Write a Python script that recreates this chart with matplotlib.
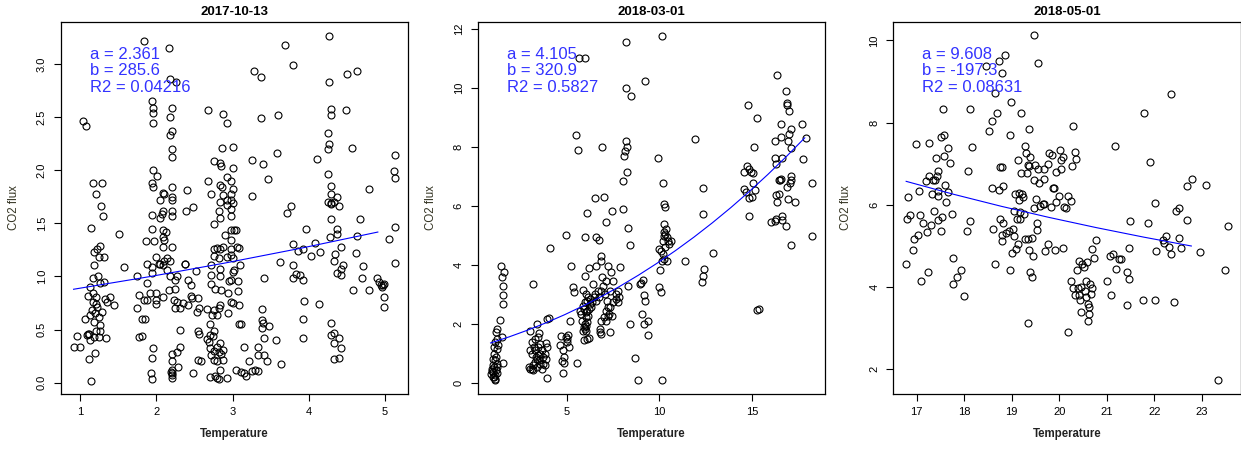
import numpy as np
import matplotlib
matplotlib.use("Agg")
import matplotlib.pyplot as plt

plt.rcParams['font.family'] = ['Liberation Sans', 'DejaVu Sans']

# (temperature, CO2 flux)
pts_2017_10_13 = [
    (0.91, 0.34), (0.95, 0.44), (1.00, 0.34), (1.03, 2.46), (1.07, 2.42), (1.06, 0.60),
    (1.11, 0.22), (1.14, 0.02), (1.10, 0.46), (1.13, 0.40), (1.17, 1.88), (1.28, 1.88),
    (1.21, 1.78), (1.27, 1.66), (1.30, 1.57), (1.14, 1.46), (1.51, 1.40), (1.57, 1.09),
    (1.18, 1.23), (1.22, 1.26), (1.26, 1.29), (1.24, 1.18), (1.31, 1.18), (1.18, 1.11),
    (1.17, 0.99), (1.23, 1.00), (1.13, 0.90), (1.26, 0.94), (1.31, 0.95), (1.10, 0.82),
    (1.17, 0.84), (1.20, 0.81), (1.17, 0.76), (1.22, 0.71), (1.15, 0.68), (1.28, 0.67),
    (1.25, 0.62), (1.13, 0.64), (1.18, 0.57), (1.26, 0.54), (1.20, 0.49), (1.26, 0.49),
    (1.18, 0.43), (1.24, 0.43), (1.19, 0.28), (1.33, 0.42), (1.39, 0.81), (1.44, 0.73),
    (1.35, 0.76), (1.32, 0.79), (1.11, 0.46), (1.08, 0.45), (1.19, 0.66), (1.21, 0.74),
    (1.74, 0.70), (1.75, 1.00), (1.77, 0.83), (1.77, 0.43), (1.81, 0.44), (1.81, 0.60),
    (1.85, 0.60), (1.84, 3.22), (1.86, 1.33), (1.88, 0.94), (1.88, 1.12), (1.84, 0.78),
    (1.88, 0.78), (1.93, 0.09), (1.94, 0.03), (1.94, 0.23), (1.96, 0.33), (1.94, 2.65),
    (1.95, 2.59), (1.95, 2.54), (1.95, 2.45), (1.96, 2.00), (2.01, 1.95), (1.94, 1.88),
    (1.95, 1.84), (1.94, 1.58), (1.94, 1.45), (1.97, 1.33), (1.99, 1.18), (1.94, 1.09),
    (1.94, 1.03), (1.92, 0.84), (1.99, 0.84), (2.00, 0.78), (2.00, 0.74), (2.03, 1.12),
    (2.05, 1.12), (2.08, 1.11), (2.10, 1.15), (2.05, 1.55), (2.07, 1.59), (2.09, 1.62),
    (2.05, 1.72), (2.10, 1.78), (2.08, 1.79), (2.09, 1.44), (2.12, 1.42), (2.08, 1.37),
    (2.10, 1.34), (2.09, 1.28), (2.14, 1.17), (2.09, 0.81), (2.14, 1.06), (2.18, 1.00),
    (2.17, 3.15), (2.18, 2.86), (2.26, 2.83), (2.20, 2.59), (2.18, 2.50), (2.20, 2.37),
    (2.18, 2.33), (2.20, 2.20), (2.20, 2.13), (2.20, 1.84), (2.21, 1.75), (2.20, 1.72),
    (2.20, 1.62), (2.20, 1.57), (2.21, 1.28), (2.18, 1.15), (2.17, 0.87), (2.25, 0.88),
    (2.23, 0.78), (2.27, 0.76), (2.24, 0.70), (2.27, 1.00), (2.24, 0.97), (2.31, 0.70),
    (2.35, 0.75), (2.31, 0.50), (2.27, 0.29), (2.31, 0.34), (2.20, 0.27), (2.20, 0.20),
    (2.28, 0.15), (2.20, 0.12), (2.19, 0.10), (2.20, 0.09), (2.20, 0.07), (2.20, 0.04),
    (2.37, 1.12), (2.38, 1.12), (2.40, 1.81), (2.39, 1.62), (2.48, 1.65), (2.42, 0.97),
    (2.45, 0.92), (2.42, 0.73), (2.45, 0.82), (2.47, 0.80), (2.48, 0.09), (2.52, 1.05),
    (2.53, 0.67), (2.55, 0.80), (2.56, 0.70), (2.55, 0.49), (2.56, 0.46), (2.55, 0.21),
    (2.58, 0.20),
    (2.68, 2.57), (2.68, 1.90), (2.72, 1.78), (2.75, 2.09), (2.84, 2.07), (2.85, 2.04),
    (2.87, 2.53), (2.93, 2.45), (2.86, 2.21), (3.00, 2.22), (3.00, 2.02), (2.93, 1.94),
    (2.98, 1.90), (2.84, 1.86), (2.86, 1.84), (2.87, 1.77), (2.98, 1.78), (3.00, 1.82),
    (2.93, 1.72), (2.98, 1.72), (3.00, 1.69), (2.93, 1.67), (2.98, 1.64), (2.84, 1.70),
    (2.82, 1.62), (2.84, 1.55), (2.98, 1.57), (2.76, 1.49), (2.90, 1.39), (2.98, 1.44),
    (3.02, 1.44), (3.04, 1.44), (2.98, 1.34), (3.06, 1.28), (3.09, 1.27), (2.75, 1.26),
    (2.80, 1.27), (2.84, 1.26), (2.88, 1.28), (2.98, 1.26), (2.75, 1.19), (2.82, 1.17),
    (2.93, 1.18), (2.98, 1.20), (3.00, 1.17), (2.72, 1.11), (2.84, 1.07), (3.10, 1.11),
    (2.72, 1.01), (2.84, 1.00), (2.95, 0.96), (2.98, 0.97), (3.00, 1.04), (3.02, 1.06),
    (3.07, 0.96), (2.72, 0.93), (2.77, 0.88), (2.85, 0.87), (2.94, 0.84), (3.07, 0.86),
    (2.98, 0.76), (3.01, 0.75), (3.09, 0.73), (2.84, 0.73), (2.82, 0.70), (2.67, 0.69),
    (2.75, 0.68), (2.73, 0.64), (2.80, 0.64), (2.94, 0.66), (2.71, 0.55), (2.75, 0.49),
    (2.70, 0.45), (2.74, 0.44), (2.67, 0.41), (2.69, 0.38), (2.71, 0.33), (2.80, 0.34),
    (2.84, 0.37), (2.87, 0.31), (2.75, 0.30), (2.82, 0.29), (2.72, 0.26), (2.85, 0.27),
    (2.75, 0.21), (2.79, 0.20), (2.87, 0.21), (2.84, 0.12), (2.71, 0.05), (2.77, 0.06),
    (2.80, 0.04), (2.82, 0.03), (2.93, 0.04), (3.09, 0.55), (3.11, 0.55), (3.04, 0.12),
    (3.15, 0.34), (3.11, 0.10), (3.15, 0.09), (3.18, 0.06), (3.22, 0.20), (3.26, 0.11),
    (3.30, 0.12), (3.33, 0.11), (3.34, 0.34), (3.34, 0.26), (3.41, 0.26), (3.45, 0.20),
    (3.28, 2.94), (3.37, 2.88), (3.38, 2.49), (3.25, 2.10), (3.40, 2.06), (3.46, 1.92),
    (3.26, 1.76), (3.58, 2.16), (3.60, 2.52), (3.69, 3.18), (3.79, 2.99), (3.72, 1.60),
    (3.77, 1.66), (3.63, 1.14), (3.79, 1.31), (3.80, 1.11), (3.86, 1.24), (3.79, 0.99),
    (3.84, 1.02), (3.89, 1.01), (3.93, 0.97), (3.93, 1.26), (3.96, 1.45), (3.42, 0.99),
    (3.39, 0.69), (3.39, 0.59), (3.40, 0.56), (3.39, 0.51), (3.48, 0.53), (3.42, 0.42),
    (3.57, 0.40), (3.64, 0.18), (3.94, 0.77), (3.93, 0.60), (3.93, 0.42), (4.03, 1.19),
    (4.08, 1.32), (4.11, 2.11), (4.15, 1.23), (4.14, 0.74),
    (4.27, 3.27), (4.27, 2.83), (4.30, 2.58), (4.29, 2.52), (4.26, 2.35), (4.27, 2.25),
    (4.26, 2.20), (4.26, 1.97), (4.29, 1.85), (4.30, 1.78), (4.26, 1.70), (4.30, 1.69),
    (4.33, 1.70), (4.29, 1.68), (4.37, 1.75), (4.40, 1.66), (4.29, 1.54), (4.28, 1.37),
    (4.37, 1.45), (4.37, 1.40), (4.42, 1.28), (4.35, 1.21), (4.34, 1.15), (4.45, 1.11),
    (4.42, 1.07), (4.37, 1.03), (4.43, 1.01), (4.49, 2.57), (4.50, 2.91), (4.63, 2.94),
    (4.57, 2.21), (4.68, 1.54), (4.64, 1.38), (4.62, 1.22), (4.72, 1.10), (4.70, 0.99),
    (4.59, 0.87), (4.79, 1.82), (4.80, 0.87), (4.29, 0.56), (4.30, 0.45), (4.33, 0.47),
    (4.40, 0.42), (4.33, 0.37), (4.43, 0.33), (4.34, 0.22), (4.40, 0.23),
    (4.90, 0.99), (4.93, 0.95), (4.95, 0.92), (4.98, 0.92), (4.96, 0.90), (4.99, 0.93),
    (4.99, 0.81), (4.99, 0.71), (5.06, 1.35), (5.12, 1.99), (5.14, 1.93), (5.14, 2.14),
    (5.13, 1.47), (5.14, 1.13),
]

pts_2018_03_01 = [
    (0.86, 0.29), (0.92, 0.46), (0.97, 0.58), (1.04, 0.18), (1.10, 0.07), (1.01, 0.35),
    (1.15, 0.43), (1.04, 0.52), (1.19, 0.63), (1.10, 0.75), (1.01, 0.80), (1.15, 0.86),
    (1.06, 0.97), (1.19, 1.14), (1.04, 1.20), (1.10, 1.37), (1.19, 1.48), (1.12, 0.24),
    (0.97, 0.20), (1.22, 0.32), (0.94, 0.38), (1.19, 0.52), (1.12, 0.12), (1.15, 1.73),
    (1.19, 1.82), (1.28, 1.26), (1.37, 2.13), (1.42, 3.95), (1.58, 3.74), (1.47, 3.57),
    (1.55, 3.29), (1.55, 2.96), (1.51, 2.67), (1.49, 1.56), (1.55, 0.66),
    (3.13, 3.33), (2.99, 1.76), (3.38, 1.99), (3.08, 1.37), (3.49, 1.67), (3.26, 1.48),
    (2.99, 1.09), (3.08, 0.97), (2.95, 0.52), (3.02, 0.46), (3.17, 0.58), (3.26, 0.69),
    (3.35, 0.80), (3.40, 0.92), (3.29, 1.09), (3.44, 1.20), (3.53, 1.31), (3.56, 0.97),
    (3.49, 0.75), (3.62, 1.09), (3.67, 0.86), (3.71, 0.63), (3.79, 0.97), (3.85, 1.33),
    (3.94, 1.20), (3.88, 0.80), (3.79, 0.58), (3.62, 0.46), (3.35, 0.52), (3.17, 0.41),
    (3.08, 0.46), (3.44, 1.54), (3.53, 0.63), (3.31, 0.88), (3.20, 1.20), (3.94, 2.16),
    (4.03, 2.18), (3.94, 0.15), (4.10, 4.57),
    (4.60, 1.26), (4.78, 1.09), (4.82, 0.86), (4.75, 0.72), (4.86, 0.66), (4.93, 1.54),
    (5.00, 1.48), (5.05, 1.60), (5.00, 1.37), (5.11, 1.20), (5.14, 2.08), (4.69, 1.59),
    (4.78, 0.33), (4.93, 5.02), (5.20, 3.97), (5.32, 3.26), (5.38, 3.07), (5.50, 8.40),
    (5.58, 7.90), (5.65, 11.00), (5.99, 11.02), (5.56, 0.66),
    (5.68, 2.44), (5.77, 2.33), (5.86, 2.61), (5.90, 2.50), (5.95, 2.73), (6.01, 2.39),
    (6.04, 2.22), (5.83, 2.10), (5.95, 1.99), (5.92, 1.88), (5.99, 1.82), (6.01, 1.76),
    (6.04, 1.93), (6.10, 2.05), (6.13, 2.27), (6.19, 2.50), (6.22, 2.67), (6.26, 2.84),
    (6.13, 2.90), (6.01, 3.01), (6.08, 1.48), (5.90, 1.43), (6.19, 1.52), (6.31, 2.56),
    (6.37, 2.73), (6.44, 2.90), (6.08, 2.44), (5.86, 1.76), (6.10, 2.78), (5.86, 3.14),
    (5.99, 3.60), (5.99, 4.93), (6.08, 5.77), (6.19, 3.88), (6.40, 3.35), (6.49, 6.26),
    (6.58, 4.93), (6.73, 4.84), (6.58, 3.97), (6.82, 4.31), (6.82, 4.11), (6.87, 7.99),
    (6.98, 6.30), (7.09, 5.44),
    (6.67, 3.12), (6.73, 2.90), (6.85, 3.12), (6.91, 3.57), (6.94, 3.29), (7.03, 3.01),
    (7.12, 3.46), (7.16, 2.78), (7.21, 2.56), (7.27, 2.33), (7.09, 2.44), (6.98, 2.22),
    (6.85, 2.10), (6.76, 1.82), (6.85, 1.65), (6.80, 1.71), (7.12, 2.10), (7.21, 2.27),
    (7.30, 2.56), (7.48, 2.73), (7.63, 3.01), (7.75, 3.12), (7.66, 2.84), (7.81, 2.90),
    (7.75, 2.73), (7.84, 3.91), (7.48, 3.46), (7.30, 3.12), (6.58, 2.78), (6.49, 3.01),
    (7.45, 2.27), (7.21, 3.95), (7.39, 3.74), (7.45, 5.81), (7.34, 1.73),
    (8.02, 5.89), (8.02, 6.84), (8.08, 7.70), (8.15, 7.87), (8.20, 8.21), (8.24, 7.99),
    (8.26, 7.15), (8.20, 11.55), (8.20, 10.00), (8.44, 9.72), (8.31, 5.23), (8.38, 4.68),
    (8.31, 3.27), (8.38, 1.99), (8.67, 0.84), (8.83, 0.07), (9.21, 10.25), (8.96, 3.35),
    (9.01, 3.37), (9.10, 3.48), (9.15, 2.97), (9.21, 2.78), (9.03, 2.33), (9.15, 1.99),
    (9.37, 2.08), (9.37, 1.60),
    (9.91, 7.61), (9.95, 3.26), (10.05, 3.82), (10.09, 3.09), (10.14, 11.78), (10.13, 0.07),
    (10.18, 6.76), (10.23, 6.06), (10.32, 5.95), (10.27, 5.38), (10.36, 5.21), (10.22, 5.10),
    (10.32, 5.05), (10.27, 4.99), (10.40, 4.93), (10.45, 4.82), (10.18, 4.82), (10.32, 4.59),
    (10.09, 4.48), (10.18, 4.37), (10.27, 4.20), (10.40, 4.14), (10.54, 4.71), (10.63, 4.82),
    (10.14, 4.14), (10.00, 4.54),
    (11.40, 4.11), (11.94, 8.27), (12.37, 6.61), (12.37, 5.72), (12.39, 3.86), (12.34, 3.63),
    (12.28, 3.40), (12.88, 4.40),
    (14.80, 9.42), (15.25, 8.98), (15.09, 7.99), (14.73, 7.36), (14.86, 7.25), (14.59, 7.16),
    (14.95, 7.14), (15.04, 7.10), (15.07, 6.76), (14.59, 6.57), (14.68, 6.46), (15.18, 6.54),
    (14.82, 6.27), (15.00, 6.31), (14.86, 5.67), (15.30, 2.45), (15.40, 2.50),
    (16.38, 10.45), (16.83, 9.91), (16.90, 9.50), (16.92, 9.42), (17.00, 9.23), (16.60, 8.78),
    (17.73, 8.76), (17.95, 8.29), (17.14, 8.59), (17.00, 8.44), (16.56, 8.35), (16.24, 8.21),
    (16.96, 8.21), (17.14, 7.95), (16.26, 7.62), (16.62, 7.62), (16.33, 7.42), (17.78, 7.58),
    (16.47, 6.88), (16.60, 6.91), (16.53, 6.86), (17.14, 7.00), (17.10, 6.86), (17.05, 6.76),
    (16.90, 6.65), (18.24, 6.76), (16.44, 6.40), (16.33, 6.35), (16.35, 6.14), (16.96, 6.23),
    (17.32, 6.12), (16.03, 5.44), (16.26, 5.50), (16.29, 5.55), (16.65, 5.67), (16.62, 5.52),
    (16.83, 5.30), (17.10, 4.68), (18.27, 4.97),
]

pts_2018_05_01 = [
    (16.78, 4.56), (16.82, 6.19), (16.79, 5.66), (16.87, 5.74), (16.92, 4.90), (16.94, 5.16),
    (16.99, 7.48), (17.02, 5.27), (17.04, 6.34), (17.07, 5.75), (17.09, 4.15), (17.14, 5.55),
    (17.20, 6.57), (17.21, 5.34), (17.23, 4.35), (17.25, 7.50), (17.27, 6.70), (17.30, 5.51),
    (17.34, 6.59), (17.32, 6.25), (17.37, 5.84), (17.39, 6.61), (17.41, 7.14), (17.43, 6.69),
    (17.44, 6.33), (17.46, 6.82), (17.46, 5.62), (17.46, 6.20), (17.51, 5.36), (17.53, 5.71),
    (17.55, 8.32), (17.51, 7.65), (17.58, 7.69), (17.58, 7.19), (17.60, 6.48), (17.62, 6.06),
    (17.65, 6.30), (17.67, 7.38), (17.70, 7.01), (17.74, 5.78), (17.76, 4.71), (17.77, 4.07),
    (17.84, 4.23), (17.93, 4.40), (18.00, 3.78), (18.07, 5.37), (18.09, 6.82), (18.12, 8.32),
    (18.12, 5.60), (18.16, 7.40),
    (18.47, 9.37), (18.53, 7.79), (18.58, 8.04), (18.58, 6.41), (18.61, 5.40), (18.65, 4.56),
    (18.64, 8.73), (18.69, 8.23), (18.73, 9.51), (18.79, 9.21), (18.85, 9.64), (18.74, 6.36),
    (18.75, 6.93), (18.80, 6.93), (18.75, 5.64), (18.80, 5.27), (18.82, 5.55), (18.80, 5.11),
    (18.82, 6.46), (18.88, 5.31), (18.95, 5.36), (18.99, 8.50), (18.96, 7.70), (18.97, 4.41),
    (19.01, 4.82), (19.02, 5.40), (19.04, 5.25), (19.04, 5.84), (19.08, 6.25), (19.09, 4.92),
    (19.13, 5.05), (19.11, 5.66), (19.13, 7.09), (19.15, 6.29), (19.16, 6.12), (19.18, 5.82),
    (19.18, 5.66), (19.20, 8.23), (19.20, 6.77), (19.21, 6.25), (19.23, 6.18), (19.25, 5.78),
    (19.27, 5.17), (19.29, 7.44), (19.30, 7.26), (19.32, 6.77), (19.34, 6.96), (19.37, 7.85),
    (19.34, 5.17), (19.37, 4.90), (19.34, 3.12), (19.37, 6.94), (19.39, 7.16), (19.39, 4.36),
    (19.42, 4.23), (19.43, 5.19), (19.44, 4.74), (19.46, 10.12), (19.46, 6.61), (19.46, 5.92),
    (19.50, 6.96), (19.51, 6.14), (19.53, 5.55), (19.53, 5.39), (19.55, 6.87), (19.56, 9.46),
    (19.58, 6.53), (19.60, 5.96), (19.65, 6.02), (19.67, 6.63), (19.69, 6.86), (19.69, 6.02),
    (19.70, 4.87), (19.76, 6.98), (19.76, 5.05), (19.79, 7.26), (19.83, 5.94), (19.85, 7.20),
    (19.86, 6.41), (19.90, 6.41), (19.92, 4.90), (19.93, 6.79), (19.93, 6.06), (19.99, 6.20),
    (20.02, 7.32), (20.04, 7.08), (20.04, 6.87), (20.09, 7.16), (20.07, 4.95), (20.11, 5.94),
    (20.14, 5.92), (20.18, 6.22), (20.19, 2.91), (20.24, 4.15), (20.25, 6.10), (20.27, 6.94),
    (20.28, 7.92), (20.28, 3.97), (20.33, 7.28), (20.35, 7.12), (20.34, 3.79), (20.37, 4.41),
    (20.40, 3.97), (20.41, 4.62), (20.42, 3.79), (20.44, 3.67), (20.46, 3.38), (20.46, 4.00),
    (20.49, 4.56), (20.53, 4.48), (20.55, 3.91), (20.56, 4.15), (20.56, 3.76), (20.59, 4.60),
    (20.60, 3.58), (20.62, 3.34), (20.60, 3.18), (20.63, 3.50), (20.65, 4.06), (20.67, 3.83),
    (20.68, 3.97), (20.68, 4.91), (20.73, 4.70), (20.78, 5.14),
    (21.01, 4.15), (21.07, 4.76), (21.10, 3.79), (21.13, 4.80), (21.18, 7.44), (21.20, 4.44),
    (21.25, 4.68), (21.30, 4.68), (21.43, 3.57), (21.43, 4.36), (21.46, 4.18), (21.46, 4.95),
    (21.49, 5.60), (21.77, 3.69), (21.79, 8.23), (21.86, 5.56), (21.92, 7.04), (22.02, 6.05),
    (22.02, 3.67), (22.03, 4.87), (22.18, 5.14), (22.20, 5.06), (22.25, 5.25), (22.31, 4.97),
    (22.35, 8.69), (22.35, 4.79), (22.41, 3.62), (22.45, 5.84), (22.51, 5.92), (22.53, 5.18),
    (22.57, 4.95), (22.69, 6.45), (22.69, 5.63), (22.80, 6.63), (22.97, 4.86), (23.09, 6.48),
    (23.34, 1.72), (23.48, 4.41), (23.55, 5.47),
]

titles = ["2017-10-13", "2018-03-01", "2018-05-01"]
param_a = [2.361, 4.105, 9.608]
param_b = [285.6, 320.9, -197.3]
param_r2 = ["0.04216", "0.5827", "0.08631"]
label_a = ["2.361", "4.105", "9.608"]
label_b = ["285.6", "320.9", "-197.3"]
x_ticks = [[1, 2, 3, 4, 5], [5, 10, 15], [17, 18, 19, 20, 21, 22, 23]]
y_ticks = [[0.0, 0.5, 1.0, 1.5, 2.0, 2.5, 3.0], [0, 2, 4, 6, 8, 10, 12], [2, 4, 6, 8, 10]]
y_fmt = ["{:.1f}", "{:.0f}", "{:.0f}"]


def lloyd_taylor(t, a, b):
    # respiration model, reference temperature 10 C
    return a * np.exp(b * (1 / (283.15 - 227.13) - 1 / (t + 273.15 - 227.13)))


fig = plt.figure(figsize=(12.41, 4.54), dpi=100)
lefts = [60.7, 477.7, 893.3]
W, H = 1241, 454

for i, pts in enumerate([pts_2017_10_13, pts_2018_03_01, pts_2018_05_01]):
    ax = fig.add_axes([lefts[i] / W, 1 - 394.3 / H, 347.5 / W, 372.6 / H])
    t = np.array([p[0] for p in pts])
    f = np.array([p[1] for p in pts])

    ax.plot(t, f, 'o', mfc='none', mec='black', ms=5, mew=0.8)

    tt = np.arange(t.min(), t.max(), 1.0)
    ax.plot(tt, lloyd_taylor(tt, param_a[i], param_b[i]), color='#0000ff', lw=0.8)

    xr = t.max() - t.min()
    yr = f.max() - f.min()
    ax.set_xlim(t.min() - 0.04 * xr, t.max() + 0.04 * xr)
    ax.set_ylim(f.min() - 0.04 * yr, f.max() + 0.04 * yr)

    ax.set_xticks(x_ticks[i])
    ax.set_yticks(y_ticks[i])
    ax.set_yticklabels([y_fmt[i].format(v) for v in y_ticks[i]], rotation=90, va='center')
    ax.tick_params(length=5, width=0.8, labelsize=8, colors='black', pad=4.5)
    ax.tick_params(axis='y', pad=5)
    for s in ax.spines.values():
        s.set_linewidth(0.9)

    ax.set_xlabel("Temperature", fontsize=8.3, fontweight='bold', color='#222222')
    ax.xaxis.set_label_coords(0.5, -39.7 / 372.6)
    ax.xaxis.label.set_va('center')
    ax.set_ylabel("CO2 flux", fontsize=8.3, color='#333322')
    ax.yaxis.set_label_coords(-47 / 347.5, 0.5)
    ax.yaxis.label.set_va('center')

    ax.text(0.5, 1 + 10 / 372.6, titles[i], transform=ax.transAxes, ha='center',
            va='center', fontsize=9.5, fontweight='bold')

    lines = ["a = " + label_a[i], "b = " + label_b[i], "R2 = " + param_r2[i]]
    for k, s in enumerate(lines):
        ax.text(0.083, 0.913 - k * 0.045, s, transform=ax.transAxes, ha='left',
                va='center', fontsize=12, color='#3333ff')

fig.savefig("out.png", dpi=100)
